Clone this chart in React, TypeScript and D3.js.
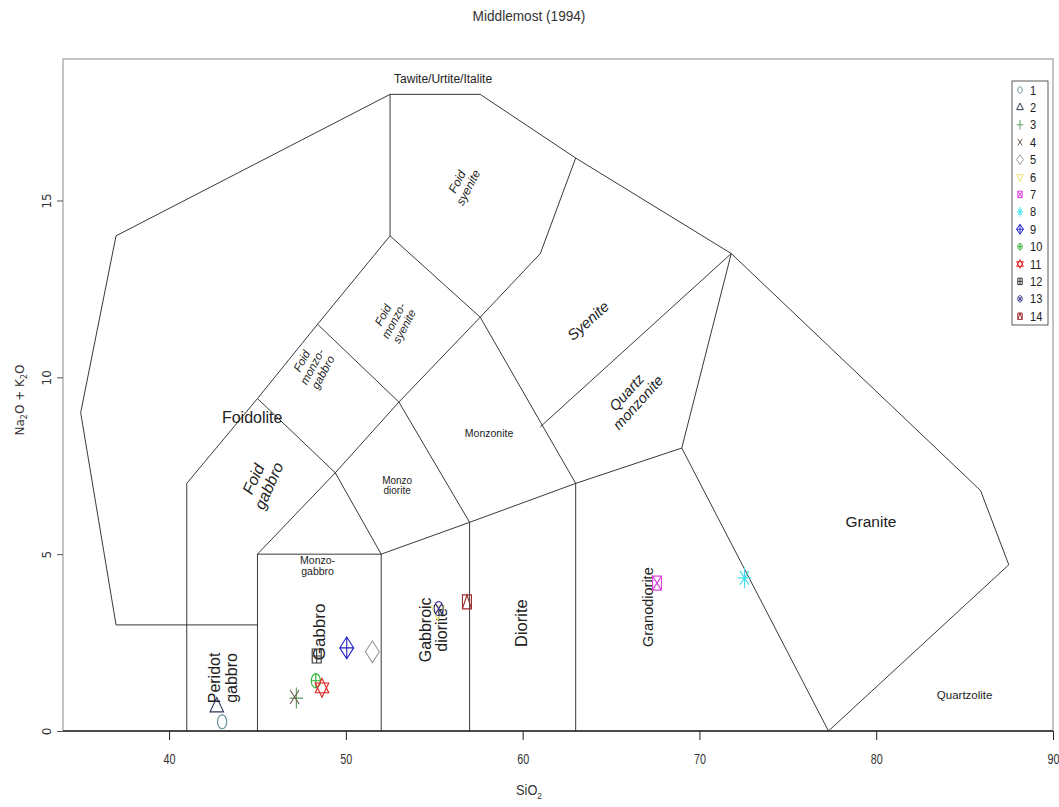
import React, { useEffect, useRef } from "react";
import * as d3 from "d3";

// Middlemost (1994) plutonic TAS diagram

const xTicks = [40, 50, 60, 70, 80, 90];
const yTicks = [0, 5, 10, 15];

// field boundaries, [SiO2, Na2O+K2O]
const outline: number[][] = [[45, 3], [37, 3], [35, 9], [37, 14], [52.5, 18], [57.6, 18], [63, 16.2], [71.8, 13.5], [85.9, 6.8], [87.5, 4.7], [77.3, 0]];
const boundaries: number[][][] = [
  outline,
  [[41, 0], [41, 7], [45, 9.4], [48.4, 11.5], [52.5, 14], [52.5, 18]],
  [[45, 0], [45, 5], [52, 5], [52, 0]],
  [[52, 5], [57, 5.9], [63, 7], [69, 8], [77.3, 0]],
  [[57, 0], [57, 5.9]],
  [[63, 0], [63, 7]],
  [[69, 8], [71.8, 13.5]],
  [[45, 5], [49.4, 7.3], [53, 9.3], [57.6, 11.7]],
  [[45, 9.4], [49.4, 7.3], [52, 5]],
  [[48.4, 11.5], [53, 9.3], [57, 5.9]],
  [[52.5, 14], [57.6, 11.7], [63, 7]],
  [[57.6, 11.7], [61, 13.5], [63, 16.2]],
  [[61, 8.6], [71.8, 13.5]],
];

const fieldNames = ["Tawite/Urtite/Italite", "Foidolite", "Foid|syenite", "Foid|monzo-|syenite", "Syenite", "Foid|monzo-|gabbro", "Monzonite", "Quartz|monzonite", "Foid|gabbro", "Monzo|diorite", "Monzo-|gabbro", "Granite", "Peridot|gabbro", "Gabbro", "Gabbroic|diorite", "Diorite", "Granodiorite", "Quartzolite"];
const fieldX = [55.5, 44.7, 56.6, 52.7, 63.7, 48.1, 58.1, 66.2, 45.2, 52.9, 48.4, 79.7, 43.05, 48.5, 54.95, 59.9, 67.1, 85.0];
const fieldY = [18.45, 8.87, 15.45, 11.6, 11.6, 10.3, 8.41, 9.43, 7.03, 6.94, 4.67, 5.92, 1.5, 2.8, 2.86, 3.05, 3.5, 1.02];
const fieldAngle = [0, 0, -62, -62, -42, -62, 0, -48, -66, 0, 0, 0, -90, -90, -90, -90, -90, 0];
const fieldItalic = [false, false, true, true, true, true, false, true, true, false, false, false, false, false, false, false, false, false];
const fieldSize = [12, 16, 12, 11.5, 15, 11.5, 10.5, 14.5, 16, 10, 10.5, 15.5, 16, 17, 16, 16.5, 14.5, 11.5];

// samples
const sampleIds = ["1", "2", "3", "4", "5", "6", "7", "8", "9", "10", "11", "12", "13", "14"];
const sampleSi = [43.0, 42.7, 47.2, 47.1, 51.5, 55.2, 67.6, 72.55, 50.05, 48.3, 48.65, 48.35, 55.25, 56.85];
const sampleAlk = [0.26, 0.68, 0.93, 0.96, 2.24, 3.4, 4.18, 4.33, 2.35, 1.42, 1.22, 2.12, 3.46, 3.65];
const sampleColors = ["#5b8a94", "#2c3550", "#5f9a5f", "#6b5a4e", "#9a9a9a", "#ece46a", "#e040e0", "#3fdfee", "#2323c8", "#2fb02f", "#e02424", "#333333", "#2c2c86", "#9c2c2c"];

const font = "'Liberation Sans', Arial, sans-serif";

function symbolPath(pch: number, rx: number, ry: number): string {
  const p = d3.path();
  const circle = () => {
    p.moveTo(rx, 0);
    for (let i = 1; i <= 40; i++) {
      const a = (i / 40) * Math.PI * 2;
      p.lineTo(rx * Math.cos(a), ry * Math.sin(a));
    }
  };
  const square = () => p.rect(-rx, -ry, 2 * rx, 2 * ry);
  const plus = (k: number) => { p.moveTo(-rx * k, 0); p.lineTo(rx * k, 0); p.moveTo(0, -ry * k); p.lineTo(0, ry * k); };
  const cross = (k: number) => { p.moveTo(-rx * k, -ry * k); p.lineTo(rx * k, ry * k); p.moveTo(-rx * k, ry * k); p.lineTo(rx * k, -ry * k); };
  const diamond = (k: number) => { p.moveTo(0, -ry * k); p.lineTo(rx * k, 0); p.lineTo(0, ry * k); p.lineTo(-rx * k, 0); p.closePath(); };
  const tri = (up: boolean) => {
    const s = up ? 1 : -1;
    p.moveTo(0, -s * ry * 1.35); p.lineTo(rx * 1.5, s * ry * 0.7); p.lineTo(-rx * 1.5, s * ry * 0.7); p.closePath();
  };
  switch (pch) {
    case 1: circle(); break;
    case 2: tri(true); break;
    case 3: plus(1.5); break;
    case 4: cross(1); break;
    case 5: diamond(1.55); break;
    case 6: tri(false); break;
    case 7: square(); cross(1); break;
    case 8: plus(1.5); cross(1); break;
    case 9: diamond(1.55); plus(1.55); break;
    case 10: circle(); plus(1); break;
    case 11: tri(true); tri(false); break;
    case 12: square(); plus(1); break;
    case 13: circle(); cross(0.72); break;
    case 14: square(); p.moveTo(-rx, ry); p.lineTo(0, -ry); p.lineTo(rx, ry); break;
  }
  return p.toString();
}

export default function App() {
  const width = 1059;
  const height = 807;
  const margin = { top: 59, right: 6, bottom: 76, left: 63 };
  const x = d3.scaleLinear().domain([34, 90]).range([margin.left, width - margin.right]);
  const y = d3.scaleLinear().domain([0, 19]).range([height - margin.bottom, margin.top]);
  const line = d3.line<number[]>().x((d) => x(d[0])).y((d) => y(d[1]));

  const xRef = useRef<SVGGElement>(null);
  const yRef = useRef<SVGGElement>(null);

  useEffect(() => {
    const gx = d3.select(xRef.current!);
    gx.call(d3.axisBottom(x).tickValues(xTicks).tickSize(9).tickPadding(13).tickFormat(d3.format("d")) as any);
    gx.select(".domain").remove();
    gx.selectAll("text")
      .attr("font-family", font)
      .attr("font-size", 15)
      .attr("fill", "#333")
      .attr("transform", "scale(0.72,1)");
    gx.selectAll("line").attr("stroke", "#222");

    const gy = d3.select(yRef.current!);
    gy.call(d3.axisLeft(y).tickValues(yTicks).tickSize(6).tickFormat(d3.format("d")) as any);
    gy.select(".domain").remove();
    gy.selectAll("line").attr("stroke", "#555");
    gy.selectAll("text")
      .attr("font-family", "'DejaVu Sans', sans-serif")
      .attr("font-size", 12)
      .attr("fill", "#333")
      .attr("text-anchor", "middle")
      .attr("x", null)
      .attr("transform", "translate(-16,0) rotate(-90)")
      .attr("dy", "0.35em");
  }, []);

  const lineH = (s: number) => s * 1.05;

  return (
    <div style={{ position: "absolute", left: 0, top: 0 }}>
      <svg width={width} height={height} style={{ display: "block", background: "#fff" }}>
        <text transform="translate(529,21) scale(0.88,1)" textAnchor="middle" fontFamily={font} fontSize={15.5} fill="#333">Middlemost (1994)</text>

        <rect x={margin.left} y={margin.top} width={width - margin.left - margin.right} height={height - margin.top - margin.bottom} fill="none" stroke="#8a8a8a" strokeWidth={1} />
        <line x1={margin.left} x2={width - margin.right} y1={y(0)} y2={y(0)} stroke="#222" strokeWidth={1.5} />

        {boundaries.map((b, i) => (
          <path key={i} d={line(b) || ""} fill="none" stroke="#222" strokeWidth={0.9} />
        ))}

        {fieldNames.map((name, i) => {
          const parts = name.split("|");
          const s = fieldSize[i];
          const first = -((parts.length - 1) / 2) * lineH(s);
          return (
            <text key={name} transform={`translate(${x(fieldX[i])},${y(fieldY[i])}) rotate(${fieldAngle[i]})`}
              textAnchor="middle" fontFamily={font} fontSize={s} fontStyle={fieldItalic[i] ? "italic" : "normal"} fill="#222">
              {parts.map((t, j) => (
                <tspan key={j} x={0} y={first + j * lineH(s)} dy="0.35em">{t}</tspan>
              ))}
            </text>
          );
        })}

        {sampleIds.map((id, i) => (
          <path key={id} d={symbolPath(i + 1, 4.5, 7)} transform={`translate(${x(sampleSi[i])},${y(sampleAlk[i])})`}
            fill="none" stroke={sampleColors[i]} strokeWidth={1.1} />
        ))}

        <g ref={xRef} transform={`translate(0,${y(0)})`} />
        <g ref={yRef} transform={`translate(${margin.left},0)`} />

        <text transform="translate(529,795) scale(0.88,1)" textAnchor="middle" fontFamily={font} fontSize={14.5} fill="#333">
          SiO<tspan fontSize={9.5} dy={4}>2</tspan>
        </text>
        <text transform="translate(24,400) rotate(-90)" textAnchor="middle" fontFamily="'DejaVu Sans', sans-serif" fontSize={12} fill="#333">
          Na<tspan fontSize={8} dy={3}>2</tspan><tspan dy={-3}>O + K</tspan><tspan fontSize={8} dy={3}>2</tspan><tspan dy={-3}>O</tspan>
        </text>

        <g transform="translate(1012,81)">
          <rect x={0} y={0} width={36} height={244} fill="#fff" stroke="#333" strokeWidth={0.8} />
          {sampleIds.map((id, i) => (
            <g key={id} transform={`translate(0,${9 + i * 17.4})`}>
              <path d={symbolPath(i + 1, 2.2, 3.2)} transform="translate(8,0)" fill="none" stroke={sampleColors[i]} strokeWidth={1} />
              <text transform="translate(18,0) scale(0.85,1)" dy="0.35em" fontFamily={font} fontSize={13} fill="#222">{id}</text>
            </g>
          ))}
        </g>
      </svg>
    </div>
  );
}
